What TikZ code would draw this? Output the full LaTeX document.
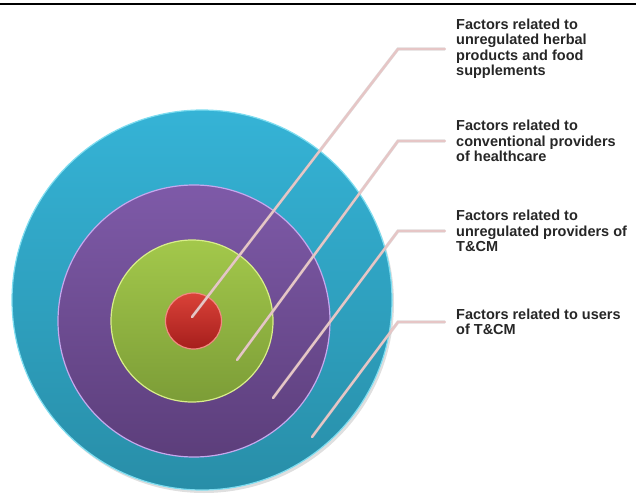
\documentclass[tikz,border=0pt]{standalone}
\usepackage{fontspec}
\setmainfont{Liberation Sans}
\usetikzlibrary{shadows}

\definecolor{tealtop}{HTML}{35B3D6}
\definecolor{tealbot}{HTML}{288EA8}
\definecolor{tealrim}{HTML}{7FDDF0}
\definecolor{purtop}{HTML}{7E5AA8}
\definecolor{purbot}{HTML}{5C3E7B}
\definecolor{purrim}{HTML}{C6A8EE}
\definecolor{grntop}{HTML}{A3C84B}
\definecolor{grnbot}{HTML}{7C9D37}
\definecolor{grnrim}{HTML}{D9EE8A}
\definecolor{redtop}{HTML}{DA4238}
\definecolor{redbot}{HTML}{A61E1C}
\definecolor{redrim}{HTML}{F08A80}
\definecolor{leadpink}{HTML}{E6C6C6}

\begin{document}
\begin{tikzpicture}[x=1pt,y=-1pt,
    disc/.style={circle,inner sep=0pt,line width=1.2pt},
    lbl/.style={anchor=west,align=left,inner xsep=11pt,inner ysep=0pt,text=black!85,
        font=\bfseries\fontsize{14.5}{15.5}\selectfont},
    leader/.style={draw=leadpink,line width=2.4pt,line cap=round,
        preaction={draw=black!35,line width=3.2pt,opacity=0.35}}]
        \useasboundingbox (0,0) rectangle (636,494);
        \draw[line width=1.6pt] (0,4) -- (636,4);
        % the four rings, outer to inner
        \node[disc,minimum size=380pt,top color=tealtop,bottom color=tealbot,draw=tealrim,
            drop shadow={shadow xshift=2pt,shadow yshift=-3pt,opacity=0.25}] at (202,300) (1) {};
        \node[disc,minimum size=272pt,top color=purtop,bottom color=purbot,draw=purrim] at (194,321) (2) {};
        \node[disc,minimum size=162pt,top color=grntop,bottom color=grnbot,draw=grnrim] at (192,321) (3) {};
        \node[disc,minimum size=56pt,top color=redtop,bottom color=redbot,draw=redrim] at (193.5,321) (4) {};
        % labels
        \node[lbl] at (445,49) (5) {Factors related to\\unregulated herbal\\products and food\\supplements};
        \node[lbl] at (445,141) (6) {Factors related to\\conventional providers\\of healthcare};
        \node[lbl] at (445,231) (7) {Factors related to\\unregulated providers of\\T\&CM};
        \node[lbl] at (445,322) (8) {Factors related to users\\of T\&CM};
        % leader lines
        \coordinate (p1) at (192,317);  \coordinate (k1) at (398,49);
        \coordinate (p2) at (237,360);  \coordinate (k2) at (398,141);
        \coordinate (p3) at (273,398);  \coordinate (k3) at (398,231);
        \coordinate (p4) at (312,437);  \coordinate (k4) at (398,322);
        \draw[leader] (p1) -- (k1) -- (5.west);
        \draw[leader] (p2) -- (k2) -- (6.west);
        \draw[leader] (p3) -- (k3) -- (7.west);
        \draw[leader] (p4) -- (k4) -- (8.west);
    \end{tikzpicture}
\end{document}
